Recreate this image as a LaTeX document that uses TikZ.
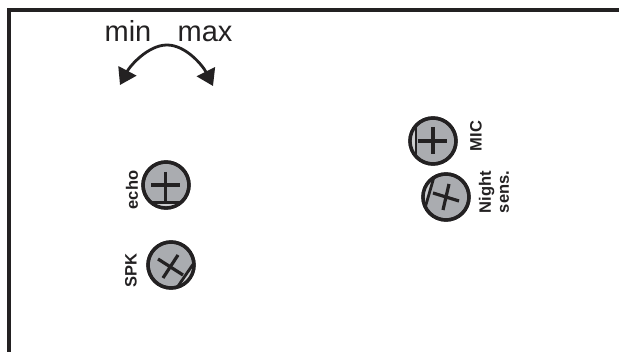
\documentclass[tikz,border=0pt]{standalone}
\usepackage{fontspec}
\setmainfont{Liberation Sans}
\usetikzlibrary{arrows.meta}
\definecolor{ink}{RGB}{35,33,34}
\definecolor{screwfill}{RGB}{170,172,176}
\definecolor{segpale}{RGB}{205,206,208}
\tikzset{
  screw/.style={circle,draw=ink,line width=3.4pt,fill=screwfill,minimum size=46pt,inner sep=0pt},
  ring/.style={draw=ink,line width=3.4pt},
  slot/.style={draw=ink,line width=3.2pt},
  chord/.style={draw=ink,line width=2.8pt,fill=segpale},
  lab/.style={font=\fontsize{16.5}{18}\selectfont\bfseries,text=ink,rotate=90,align=center,inner sep=0pt},
  big/.style={font=\fontsize{29}{30}\selectfont,text=ink,inner sep=0pt,anchor=base},
  swing/.style={draw=ink,line width=2.8pt,{Triangle[length=16pt,width=20pt]}-{Triangle[length=16pt,width=20pt]}}
}
\begin{document}
\begin{tikzpicture}[x=1pt,y=-1pt]
\useasboundingbox (0,0) rectangle (619,352);
\fill[white] (0,0) rectangle (619,352);
% frame
\coordinate (fb) at (9,352);
\coordinate (fc) at (9,10);
\coordinate (fr) at (619,10);
\draw[ink,line width=4.5pt] (fb) -- (fc) -- (fr);
% min/max
\node[big] (min) at (128,41.5) {min};
\node[big] (max) at (205,41.5) {max};
\coordinate (al) at (120,85);
\coordinate (ar) at (213,86);
\draw[swing] (al) .. controls (130,66) and (148,45) .. (167,45) .. controls (186,45) and (203,66) .. (ar);
% echo
\node[screw] (echo) at (166,185) {};
\begin{scope}
\clip (echo.center) circle (24);
\draw[chord] (140,202.5) -- (192,202.5) -- (192,215) -- (140,215) -- cycle;
\end{scope}
\draw[ring] (echo.center) circle (23);
\draw[slot] (151,185) -- (180,185) (165.5,172) -- (165.5,202);
\node[lab] (echolab) at (132,190) {echo};
% SPK
\node[screw] (spk) at (171,265) {};
\begin{scope}
\clip (spk.center) circle (24);
\draw[chord] (172,295) -- (198,257) -- (210,280) -- (190,300) -- cycle;
\end{scope}
\draw[ring] (spk.center) circle (23);
\draw[slot] (158,259) -- (183,275) (178,255) -- (163,278);
\node[lab] (spklab) at (131,271) {SPK};
% MIC
\node[screw] (mic) at (433,141) {};
\begin{scope}
\clip (mic.center) circle (24);
\draw[chord] (416,115) -- (416,165) -- (400,165) -- (400,115) -- cycle;
\end{scope}
\draw[ring] (mic.center) circle (23);
\draw[slot] (418,141) -- (447,141) (433,127) -- (433,154);
\node[lab] (miclab) at (476,136) {MIC};
% Night
\node[screw] (night) at (446,197) {};
\begin{scope}
\clip (night.center) circle (24);
\draw[chord] (436,170) -- (423,215) -- (410,215) -- (415,170) -- cycle;
\end{scope}
\draw[ring] (night.center) circle (23);
\draw[slot] (433,193) -- (459,201) (449,184) -- (443,210);
\node[lab] (nightlab) at (494,192) {Night\\sens.};
\end{tikzpicture}
\end{document}
